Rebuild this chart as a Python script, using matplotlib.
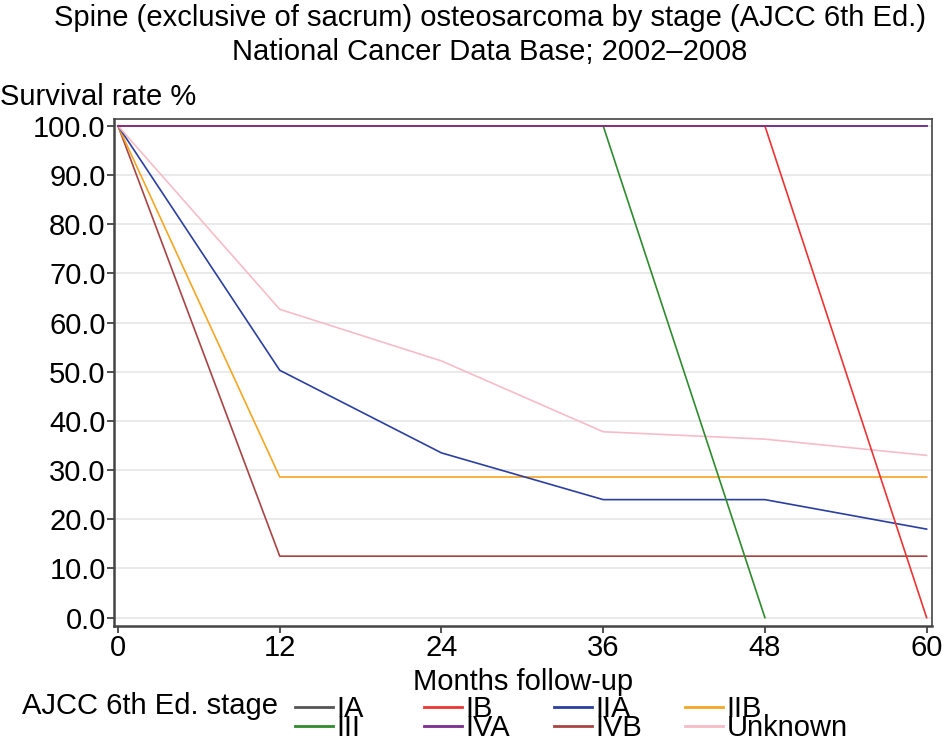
import matplotlib
matplotlib.use("Agg")
import matplotlib.pyplot as plt
from matplotlib.lines import Line2D

plt.rcParams['font.family'] = ['Liberation Sans', 'DejaVu Sans']

months = [0, 12, 24, 36, 48, 60]
stages = ["IA", "IB", "IIA", "IIB", "III", "IVA", "IVB", "Unknown"]
colors = ["#555555", "#ee3333", "#2b3fa0", "#f5a623", "#2e8b2e", "#7b2d8e", "#a84444", "#f6bcc8"]
surv_IA = [100, 100, 100, 100, 100, 100]
surv_IB = [100, 100, 100, 100, 100, 0]
surv_IIA = [100, 50.3, 33.5, 24.0, 24.0, 18.0]
surv_IIB = [100, 28.6, 28.6, 28.6, 28.6, 28.6]
surv_III = [100, 100, 100, 100, 0]
surv_IVA = [100, 100, 100, 100, 100, 100]
surv_IVB = [100, 12.5, 12.5, 12.5, 12.5, 12.5]
surv_Unknown = [100, 62.7, 52.2, 37.8, 36.3, 33.0]
series = [surv_IA, surv_IB, surv_IIA, surv_IIB, surv_III, surv_IVA, surv_IVB, surv_Unknown]
yticks = [0, 10, 20, 30, 40, 50, 60, 70, 80, 90, 100]

FS = 21

fig = plt.figure(figsize=(9.44, 7.44), dpi=100)
ax = fig.add_axes([114/944, 1 - 626/744, (932 - 114)/944, (626 - 119)/744])

draw_order = ["IA", "IVB", "IIB", "IIA", "Unknown", "III", "IB", "IVA"]
for name in draw_order:
    i = stages.index(name)
    vals = series[i]
    ax.plot(months[:len(vals)], vals, color=colors[i], lw=1.2, zorder=3)

ax.set_xlim(-0.3, 60.4)
ax.set_ylim(-1.7, 101.4)
ax.set_xticks(months)
ax.set_yticks(yticks)
ax.set_yticklabels([f"{v:.1f}" for v in yticks])
ax.tick_params(labelsize=FS, length=5, width=1.2, colors="#333333", labelcolor="black", pad=1)
ax.yaxis.grid(True, color="#e6e6e6", lw=1.2, zorder=0)
ax.set_axisbelow(True)
for s in ax.spines.values():
    s.set_color("#444444")
    s.set_linewidth(1.2)
ax.spines['left'].set_linewidth(1.8)
ax.spines['bottom'].set_linewidth(1.8)
ax.set_xlabel("Months follow-up", fontsize=FS, labelpad=4)

fig.text(490/944, 1 - 18/744, "Spine (exclusive of sacrum) osteosarcoma by stage (AJCC 6th Ed.)",
         ha="center", va="center", fontsize=FS)
fig.text(490/944, 1 - 52/744, "National Cancer Data Base; 2002\u20132008",
         ha="center", va="center", fontsize=FS)
fig.text(0/944, 1 - 97/744, "Survival rate %", ha="left", va="center", fontsize=FS)

fig.text(22/944, 1 - 706/744, "AJCC 6th Ed. stage", ha="left", va="center", fontsize=FS)
columns = [["IA", "III"], ["IB", "IVA"], ["IIA", "IVB"], ["IIB", "Unknown"]]
col_x = [295, 424, 554, 685]
for cx, names in zip(col_x, columns):
    hs = [Line2D([0], [0], color=colors[stages.index(n)], lw=2) for n in names]
    fig.legend(hs, names, loc="upper left",
               bbox_to_anchor=(cx/944, 1 - 695/744), frameon=False, fontsize=FS,
               handlelength=1.3, handletextpad=0.12,
               labelspacing=-0.3, borderpad=0, borderaxespad=0)

fig.savefig("out.png", dpi=100)
